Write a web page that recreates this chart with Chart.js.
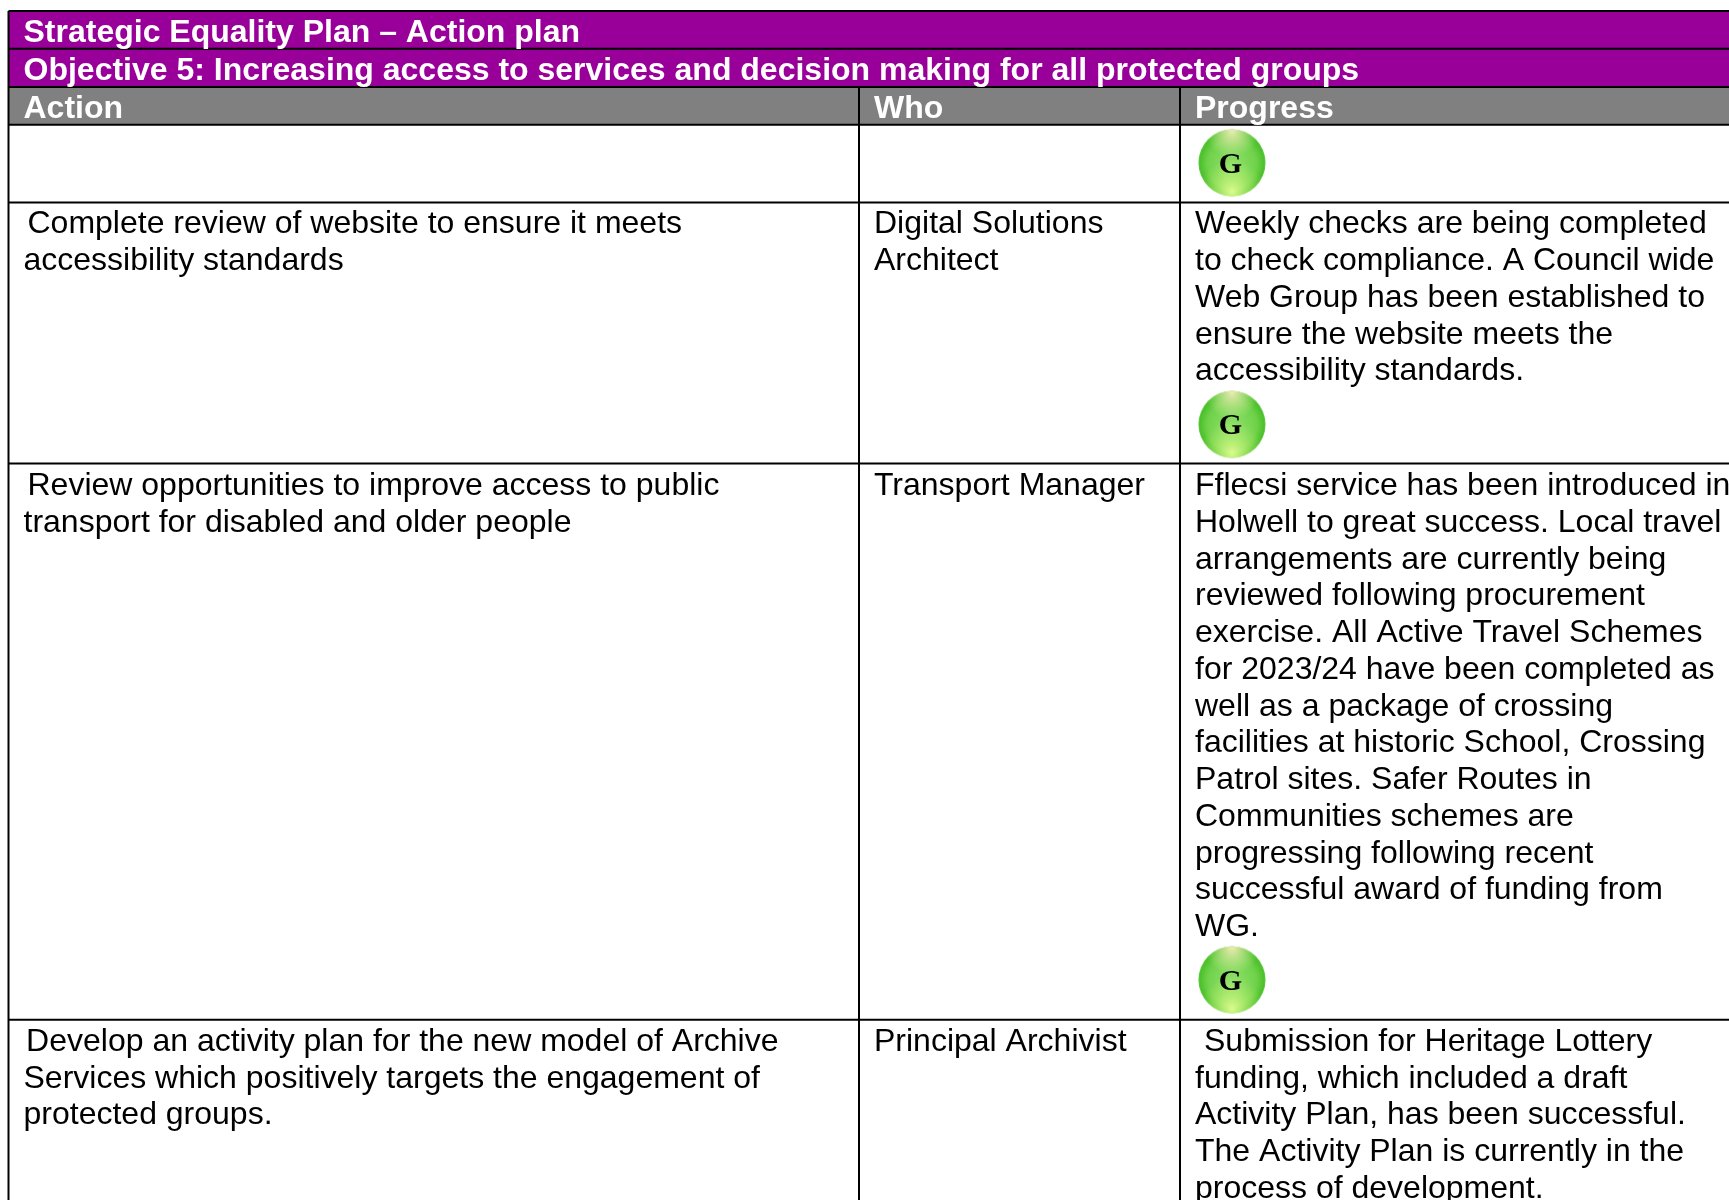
<!DOCTYPE html>
<html><head><meta charset="utf-8">
<style>html,body{margin:0;padding:0;background:#fff;overflow:hidden}canvas{display:block}</style>
<script src="https://cdn.jsdelivr.net/npm/chart.js@4"></script>
</head><body><canvas id="c" width="1729" height="1200"></canvas>
<script>
const titleText = "Strategic Equality Plan – Action plan";
const objectiveText = "Objective 5: Increasing access to services and decision making for all protected groups";
const headers = ["Action", "Who", "Progress"];
const actions = [
  [],
  ["Complete review of website to ensure it meets", "accessibility standards"],
  ["Review opportunities to improve access to public", "transport for disabled and older people"],
  ["Develop an activity plan for the new model of Archive", "Services which positively targets the engagement of", "protected groups."]
];
const owners = [
  [],
  ["Digital Solutions", "Architect"],
  ["Transport Manager"],
  ["Principal Archivist"]
];
const progress = [
  [],
  ["Weekly checks are being completed", "to check compliance. A Council wide", "Web Group has been established to", "ensure the website meets the", "accessibility standards."],
  ["Fflecsi service has been introduced in", "Holwell to great success. Local travel", "arrangements are currently being", "reviewed following procurement", "exercise. All Active Travel Schemes", "for 2023/24 have been completed as", "well as a package of crossing", "facilities at historic School, Crossing", "Patrol sites. Safer Routes in", "Communities schemes are", "progressing following recent", "successful award of funding from", "WG."],
  ["Submission for Heritage Lottery", "funding, which included a draft", "Activity Plan, has been successful.", "The Activity Plan is currently in the", "process of development."]
];
const ratings = ["G", "G", "G"];

// layout (in page units of the hidden axes)
const W = 1729, H = 1200;
const rowEdges = [11, 48.7, 87, 124.7, 202.5, 463.6, 1019.8];
const colEdges = [8.5, 859, 1180];
const colText = [23.5, 874, 1195];
const firstIndent = [[0,0,0], [4,0,0], [4,0,0], [2.6,0,9]];
const bodyFirstBaseline = [0, 233.4, 495.2, 1050.8];
const lineH = 36.75;
const headBaselines = [41.6, 80, 118.2];
const badgeX = [1232, 1232, 1232];
const badgeY = [162.7, 424.3, 979.7];
const FS = 32, FSB = 32;
const badgeR = 33.6;

function makeBadge(r){
  const s = Math.ceil(r*2+2), cv = document.createElement('canvas');
  cv.width = cv.height = s;
  const g = cv.getContext('2d'), c = s/2;
  g.beginPath(); g.arc(c,c,r,0,Math.PI*2); g.closePath();
  let grd = g.createRadialGradient(c,c+r*0.15,r*0.1,c,c,r);
  grd.addColorStop(0,'#8fe06a'); grd.addColorStop(0.7,'#6fd24a'); grd.addColorStop(0.95,'#4cc02c'); grd.addColorStop(1,'#6ccf50');
  g.fillStyle = grd; g.fill();
  g.save(); g.clip();
  let top = g.createRadialGradient(c,c-r*0.95,1,c,c-r*0.95,r*0.8);
  top.addColorStop(0,'rgba(240,235,180,0.95)'); top.addColorStop(1,'rgba(220,240,170,0)');
  g.fillStyle = top; g.fillRect(0,0,s,s);
  let bot = g.createRadialGradient(c,c+r*0.85,1,c,c+r*0.85,r*0.95);
  bot.addColorStop(0,'rgba(215,250,140,1)'); bot.addColorStop(1,'rgba(190,240,110,0)');
  g.fillStyle = bot; g.fillRect(0,0,s,s);
  g.restore();
  return cv;
}

const hLines = rowEdges.map(y => ({type:'scatter',showLine:true,borderColor:'#000',borderWidth:2,pointRadius:0,data:[{x:colEdges[0],y},{x:W,y}]}));
const vLines = [
  {type:'scatter',showLine:true,borderColor:'#000',borderWidth:2,pointRadius:0,data:[{x:colEdges[0],y:rowEdges[0]},{x:colEdges[0],y:H}]},
  {type:'scatter',showLine:true,borderColor:'#000',borderWidth:2,pointRadius:0,data:[{x:colEdges[1],y:rowEdges[2]},{x:colEdges[1],y:H}]},
  {type:'scatter',showLine:true,borderColor:'#000',borderWidth:2,pointRadius:0,data:[{x:colEdges[2],y:rowEdges[2]},{x:colEdges[2],y:H}]}
];
const badges = {type:'scatter',pointStyle:makeBadge(badgeR),pointRadius:badgeR,pointHoverRadius:badgeR,data:badgeX.map((x,i)=>({x,y:badgeY[i]}))};

const tablePlugin = {
  id:'table',
  beforeDatasetsDraw(ch){
    const {ctx,scales:{x,y}} = ch;
    const band = (c,y0,y1)=>{ctx.fillStyle=c;ctx.fillRect(x.getPixelForValue(colEdges[0]),y.getPixelForValue(y0),x.getPixelForValue(W)-x.getPixelForValue(colEdges[0]),y.getPixelForValue(y1)-y.getPixelForValue(y0));};
    band('#990099',rowEdges[0],rowEdges[2]);
    band('#808080',rowEdges[2],rowEdges[3]);
  },
  afterDatasetsDraw(ch){
    const {ctx,scales:{x,y}} = ch;
    const put = (t,xv,yv)=>ctx.fillText(t,x.getPixelForValue(xv),y.getPixelForValue(yv));
    ctx.save();
    ctx.textBaseline='alphabetic'; ctx.textAlign='left';
    ctx.fillStyle='#fff'; ctx.font=`bold ${FSB}px "Liberation Sans"`;
    put(titleText,colText[0],headBaselines[0]);
    put(objectiveText,colText[0],headBaselines[1]);
    headers.forEach((h,i)=>put(h,colText[i],headBaselines[2]));
    ctx.fillStyle='#000'; ctx.font=`${FS}px "Liberation Sans"`;
    [actions,owners,progress].forEach((col,ci)=>col.forEach((lines,ri)=>lines.forEach((t,li)=>{
      put(t,colText[ci]+(li===0?firstIndent[ri][ci]:0),bodyFirstBaseline[ri]+li*lineH);
    })));
    ctx.font='bold 30px "Liberation Serif"'; ctx.textAlign='center';
    ratings.forEach((r,i)=>put(r,badgeX[i]-1.6,badgeY[i]+10));
    ctx.restore();
  }
};

new Chart(document.getElementById('c'),{
  type:'scatter',
  data:{datasets:[...hLines,...vLines,badges]},
  options:{
    responsive:false,animation:false,
    layout:{padding:0,autoPadding:false},
    plugins:{legend:{display:false},tooltip:{enabled:false},title:{display:false}},
    scales:{
      x:{type:'linear',display:false,min:0,max:W},
      y:{type:'linear',display:false,min:0,max:H,reverse:true}
    },
    clip:false
  },
  plugins:[tablePlugin]
});
</script></body></html>
